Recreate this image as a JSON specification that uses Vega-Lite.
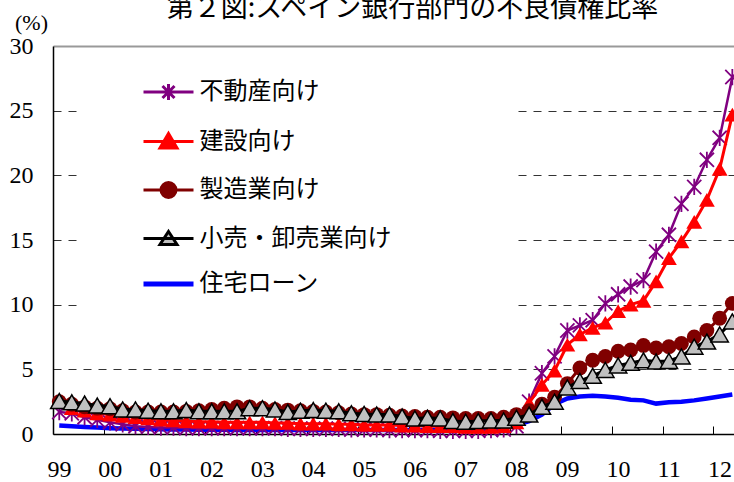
{
  "$schema": "https://vega.github.io/schema/vega-lite/v6.json",
  "width": 681,
  "height": 388,
  "autosize": {"type": "none"},
  "padding": {"left": 53, "top": 46, "right": 0, "bottom": 48},
  "background": "white",
  "config": {"view": {"stroke": null}},
  "title": {
    "text": "第２図:スペイン銀行部門の不良債権比率",
    "font": "Noto Sans CJK JP",
    "fontSize": 27,
    "fontWeight": "normal",
    "color": "#000000",
    "anchor": "middle",
    "frame": "group",
    "baseline": "alphabetic",
    "offset": 0,
    "dy": 33,
    "dx": 19
  },
  "data": {
    "values": [
      {"d": "1999-02-15", "不動産向け": 1.7, "建設向け": 2.5, "製造業向け": 2.5, "小売・卸売業向け": 2.55, "住宅ローン": 0.65},
      {"d": "1999-05-16", "不動産向け": 1.6, "建設向け": 2.0, "製造業向け": 2.3, "小売・卸売業向け": 2.45, "住宅ローン": 0.6},
      {"d": "1999-08-16", "不動産向け": 1.3, "建設向け": 1.8, "製造業向け": 2.1, "小売・卸売業向け": 2.35, "住宅ローン": 0.55},
      {"d": "1999-11-15", "不動産向け": 1.1, "建設向け": 1.6, "製造業向け": 2.0, "小売・卸売業向け": 2.2, "住宅ローン": 0.5},
      {"d": "2000-02-15", "不動産向け": 0.9, "建設向け": 1.5, "製造業向け": 1.95, "小売・卸売業向け": 2.15, "住宅ローン": 0.45},
      {"d": "2000-05-16", "不動産向け": 0.75, "建設向け": 1.4, "製造業向け": 1.8, "小売・卸売業向け": 1.9, "住宅ローン": 0.42},
      {"d": "2000-08-16", "不動産向け": 0.6, "建設向け": 1.3, "製造業向け": 1.7, "小売・卸売業向け": 1.9, "住宅ローン": 0.4},
      {"d": "2000-11-15", "不動産向け": 0.55, "建設向け": 1.2, "製造業向け": 1.7, "小売・卸売業向け": 1.8, "住宅ローン": 0.38},
      {"d": "2001-02-15", "不動産向け": 0.5, "建設向け": 1.1, "製造業向け": 1.7, "小売・卸売業向け": 1.75, "住宅ローン": 0.36},
      {"d": "2001-05-16", "不動産向け": 0.5, "建設向け": 1.05, "製造業向け": 1.7, "小売・卸売業向け": 1.75, "住宅ローン": 0.35},
      {"d": "2001-08-16", "不動産向け": 0.45, "建設向け": 1.0, "製造業向け": 1.75, "小売・卸売業向け": 1.85, "住宅ローン": 0.34},
      {"d": "2001-11-15", "不動産向け": 0.45, "建設向け": 0.95, "製造業向け": 1.8, "小売・卸売業向け": 1.75, "住宅ローン": 0.33},
      {"d": "2002-02-15", "不動産向け": 0.45, "建設向け": 0.95, "製造業向け": 1.9, "小売・卸売業向け": 1.75, "住宅ローン": 0.32},
      {"d": "2002-05-16", "不動産向け": 0.45, "建設向け": 0.9, "製造業向け": 2.0, "小売・卸売業向け": 1.75, "住宅ローン": 0.32},
      {"d": "2002-08-16", "不動産向け": 0.45, "建設向け": 0.9, "製造業向け": 2.1, "小売・卸売業向け": 1.75, "住宅ローン": 0.31},
      {"d": "2002-11-15", "不動産向け": 0.45, "建設向け": 0.9, "製造業向け": 2.1, "小売・卸売業向け": 2.0, "住宅ローン": 0.31},
      {"d": "2003-02-15", "不動産向け": 0.45, "建設向け": 0.9, "製造業向け": 2.0, "小売・卸売業向け": 2.0, "住宅ローン": 0.3},
      {"d": "2003-05-16", "不動産向け": 0.45, "建設向け": 0.85, "製造業向け": 1.9, "小売・卸売業向け": 1.9, "住宅ローン": 0.3},
      {"d": "2003-08-16", "不動産向け": 0.4, "建設向け": 0.85, "製造業向け": 1.85, "小売・卸売業向け": 1.7, "住宅ローン": 0.3},
      {"d": "2003-11-15", "不動産向け": 0.4, "建設向け": 0.8, "製造業向け": 1.8, "小売・卸売業向け": 1.8, "住宅ローン": 0.3},
      {"d": "2004-02-15", "不動産向け": 0.4, "建設向け": 0.8, "製造業向け": 1.75, "小売・卸売業向け": 1.85, "住宅ローン": 0.3},
      {"d": "2004-05-16", "不動産向け": 0.4, "建設向け": 0.8, "製造業向け": 1.7, "小売・卸売業向け": 1.8, "住宅ローン": 0.3},
      {"d": "2004-08-16", "不動産向け": 0.4, "建設向け": 0.75, "製造業向け": 1.65, "小売・卸売業向け": 1.75, "住宅ローン": 0.3},
      {"d": "2004-11-15", "不動産向け": 0.35, "建設向け": 0.75, "製造業向け": 1.55, "小売・卸売業向け": 1.6, "住宅ローン": 0.3},
      {"d": "2005-02-15", "不動産向け": 0.35, "建設向け": 0.7, "製造業向け": 1.5, "小売・卸売業向け": 1.55, "住宅ローン": 0.3},
      {"d": "2005-05-16", "不動産向け": 0.35, "建設向け": 0.7, "製造業向け": 1.5, "小売・卸売業向け": 1.5, "住宅ローン": 0.3},
      {"d": "2005-08-16", "不動産向け": 0.3, "建設向け": 0.7, "製造業向け": 1.45, "小売・卸売業向け": 1.5, "住宅ローン": 0.3},
      {"d": "2005-11-15", "不動産向け": 0.3, "建設向け": 0.65, "製造業向け": 1.4, "小売・卸売業向け": 1.35, "住宅ローン": 0.3},
      {"d": "2006-02-15", "不動産向け": 0.3, "建設向け": 0.65, "製造業向け": 1.35, "小売・卸売業向け": 1.2, "住宅ローン": 0.3},
      {"d": "2006-05-16", "不動産向け": 0.3, "建設向け": 0.6, "製造業向け": 1.3, "小売・卸売業向け": 1.25, "住宅ローン": 0.3},
      {"d": "2006-08-16", "不動産向け": 0.25, "建設向け": 0.6, "製造業向け": 1.3, "小売・卸売業向け": 1.2, "住宅ローン": 0.3},
      {"d": "2006-11-15", "不動産向け": 0.25, "建設向け": 0.6, "製造業向け": 1.25, "小売・卸売業向け": 1.0, "住宅ローン": 0.3},
      {"d": "2007-02-15", "不動産向け": 0.25, "建設向け": 0.55, "製造業向け": 1.2, "小売・卸売業向け": 0.95, "住宅ローン": 0.32},
      {"d": "2007-05-16", "不動産向け": 0.25, "建設向け": 0.55, "製造業向け": 1.2, "小売・卸売業向け": 1.0, "住宅ローン": 0.35},
      {"d": "2007-08-16", "不動産向け": 0.3, "建設向け": 0.55, "製造業向け": 1.2, "小売・卸売業向け": 1.05, "住宅ローン": 0.4},
      {"d": "2007-11-15", "不動産向け": 0.35, "建設向け": 0.6, "製造業向け": 1.3, "小売・卸売業向け": 1.05, "住宅ローン": 0.5},
      {"d": "2008-02-15", "不動産向け": 0.6, "建設向け": 0.9, "製造業向け": 1.5, "小売・卸売業向け": 1.25, "住宅ローン": 0.7},
      {"d": "2008-05-16", "不動産向け": 2.5, "建設向け": 2.4, "製造業向け": 1.8, "小売・卸売業向け": 1.5, "住宅ローン": 1.0},
      {"d": "2008-08-16", "不動産向け": 4.7, "建設向け": 3.8, "製造業向け": 2.3, "小売・卸売業向け": 2.1, "住宅ローン": 1.5},
      {"d": "2008-11-15", "不動産向け": 6.0, "建設向け": 4.9, "製造業向け": 2.85, "小売・卸売業向け": 2.5, "住宅ローン": 2.3},
      {"d": "2009-02-15", "不動産向け": 8.0, "建設向け": 6.9, "製造業向け": 3.9, "小売・卸売業向け": 3.6, "住宅ローン": 2.75},
      {"d": "2009-05-16", "不動産向け": 8.4, "建設向け": 7.7, "製造業向け": 5.1, "小売・卸売業向け": 4.1, "住宅ローン": 2.9},
      {"d": "2009-08-16", "不動産向け": 8.8, "建設向け": 8.2, "製造業向け": 5.7, "小売・卸売業向け": 4.5, "住宅ローン": 2.95},
      {"d": "2009-11-15", "不動産向け": 10.1, "建設向け": 8.6, "製造業向け": 6.0, "小売・卸売業向け": 4.95, "住宅ローン": 2.9},
      {"d": "2010-02-15", "不動産向け": 10.8, "建設向け": 9.5, "製造業向け": 6.4, "小売・卸売業向け": 5.3, "住宅ローン": 2.8},
      {"d": "2010-05-16", "不動産向け": 11.4, "建設向け": 10.0, "製造業向け": 6.5, "小売・卸売業向け": 5.5, "住宅ローン": 2.65},
      {"d": "2010-08-16", "不動産向け": 11.9, "建設向け": 10.3, "製造業向け": 6.85, "小売・卸売業向け": 5.7, "住宅ローン": 2.6},
      {"d": "2010-11-15", "不動産向け": 14.1, "建設向け": 11.8, "製造業向け": 6.65, "小売・卸売業向け": 5.6, "住宅ローン": 2.35},
      {"d": "2011-02-15", "不動産向け": 15.4, "建設向け": 13.6, "製造業向け": 6.75, "小売・卸売業向け": 5.65, "住宅ローン": 2.45},
      {"d": "2011-05-16", "不動産向け": 17.8, "建設向け": 14.9, "製造業向け": 7.0, "小売・卸売業向け": 6.0, "住宅ローン": 2.5},
      {"d": "2011-08-16", "不動産向け": 19.1, "建設向け": 16.4, "製造業向け": 7.5, "小売・卸売業向け": 6.75, "住宅ローン": 2.6},
      {"d": "2011-11-15", "不動産向け": 21.2, "建設向け": 18.1, "製造業向け": 8.0, "小売・卸売業向け": 7.15, "住宅ローン": 2.75},
      {"d": "2012-02-15", "不動産向け": 22.9, "建設向け": 20.5, "製造業向け": 8.95, "小売・卸売業向け": 7.7, "住宅ローン": 2.9},
      {"d": "2012-05-16", "不動産向け": 27.6, "建設向け": 24.7, "製造業向け": 10.1, "小売・卸売業向け": 8.7, "住宅ローン": 3.05}
    ]
  },
  "transform": [
    {"fold": ["不動産向け", "建設向け", "製造業向け", "小売・卸売業向け", "住宅ローン"], "as": ["s", "v"]}
  ],
  "encoding": {
    "x": {
      "field": "d",
      "type": "temporal",
      "scale": {"domain": [{"year": 1999, "month": 1, "date": 1}, {"year": 2012, "month": 5, "date": 28}]},
      "axis": {
        "title": null,
        "values": [
          {"year": 1999, "month": 1, "date": 1}, {"year": 2000, "month": 1, "date": 1},
          {"year": 2001, "month": 1, "date": 1}, {"year": 2002, "month": 1, "date": 1},
          {"year": 2003, "month": 1, "date": 1}, {"year": 2004, "month": 1, "date": 1},
          {"year": 2005, "month": 1, "date": 1}, {"year": 2006, "month": 1, "date": 1},
          {"year": 2007, "month": 1, "date": 1}, {"year": 2008, "month": 1, "date": 1},
          {"year": 2009, "month": 1, "date": 1}, {"year": 2010, "month": 1, "date": 1},
          {"year": 2011, "month": 1, "date": 1}, {"year": 2012, "month": 1, "date": 1}
        ],
        "format": "%y",
        "labelFont": "Liberation Serif",
        "labelFontSize": 24,
        "labelColor": "#000000",
        "labelOffset": 6,
        "labelFlush": false,
        "labelOverlap": false,
        "labelBaseline": "alphabetic",
        "labelPadding": 50,
        "tickSize": -8,
        "tickColor": "#000000",
        "tickWidth": 1,
        "domainColor": "#000000",
        "domainWidth": 1.5,
        "grid": false
      }
    },
    "y": {
      "field": "v",
      "type": "quantitative",
      "scale": {"domain": [0, 30]},
      "axis": {
        "title": "(%)",
        "titleAngle": 0,
        "titleX": -22,
        "titleY": -17,
        "titleAlign": "center",
        "titleBaseline": "alphabetic",
        "titleFont": "Liberation Serif",
        "titleFontSize": 22,
        "titleFontWeight": "normal",
        "titleColor": "#000000",
        "values": [0, 5, 10, 15, 20, 25, 30],
        "labelFont": "Liberation Serif",
        "labelFontSize": 24,
        "labelColor": "#000000",
        "labelPadding": 20,
        "labelFlush": false,
        "ticks": false,
        "domainColor": "#000000",
        "domainWidth": 1.5,
        "grid": true,
        "gridColor": {"condition": {"test": "datum.value === 30", "value": "#999999"}, "value": "#333333"},
        "gridDash": {"condition": {"test": "datum.value === 30", "value": []}, "value": [8, 7]},
        "gridWidth": {"condition": {"test": "datum.value === 30", "value": 2}, "value": 1},
        "gridOpacity": {"condition": {"test": "datum.value === 0", "value": 0}, "value": 1}
      }
    },
    "color": {
      "field": "s",
      "type": "nominal",
      "scale": {
        "domain": ["不動産向け", "建設向け", "製造業向け", "小売・卸売業向け", "住宅ローン"],
        "range": ["#800080", "#ff0000", "#800000", "#000000", "#0000ff"]
      },
      "legend": {
        "orient": "none",
        "legendX": 25,
        "legendY": 24,
        "title": " ",
        "titleOrient": "right",
        "titlePadding": 112,
        "titleFontSize": 10,
        "padding": 10,
        "fillColor": "#ffffff",
        "labelFont": "Noto Sans CJK JP",
        "labelFontSize": 24,
        "labelColor": "#000000",
        "labelLimit": 400,
        "symbolSize": 400,
        "symbolStrokeWidth": 2.5,
        "symbolOffset": 68.5,
        "labelOffset": 19,
        "rowPadding": 21.5,
        "encode": {
          "symbols": {
            "update": {
              "shape": {"signal": "datum.value === '不動産向け' ? 'M-2.5,0L2.5,0M-0.6,-0.6L0.6,0.6M-0.6,0.6L0.6,-0.6M0,-0.8L0,0.8' : datum.value === '建設向け' ? 'M-2.5,0L2.5,0M0,-0.8L0.85,0.65L-0.85,0.65Z' : datum.value === '製造業向け' ? 'M-2.5,0L2.5,0M0.75,0A0.75,0.75,0,1,1,-0.75,0A0.75,0.75,0,1,1,0.75,0Z' : datum.value === '小売・卸売業向け' ? 'M-2.5,0L2.5,0M0,-0.7L0.85,0.6L-0.85,0.6Z' : 'M-2.5,0L2.5,0'"},
              "fill": {"signal": "datum.value === '建設向け' ? '#ff0000' : datum.value === '製造業向け' ? '#800000' : datum.value === '小売・卸売業向け' ? '#c0c0c0' : 'transparent'"},
              "stroke": {"signal": "datum.value === '不動産向け' ? '#800080' : datum.value === '建設向け' ? '#ff0000' : datum.value === '製造業向け' ? '#800000' : datum.value === '小売・卸売業向け' ? '#000000' : '#0000ff'"},
              "strokeWidth": {"signal": "datum.value === '住宅ローン' ? 5 : 3"},
              "opacity": {"value": 1}
            }
          }
        }
      }
    }
  },
  "layer": [
    {
      "transform": [{"filter": "datum.s === '住宅ローン'"}],
      "mark": {"type": "line", "strokeWidth": 4.5}
    },
    {
      "transform": [{"filter": "datum.s === '不動産向け'"}],
      "mark": {"type": "line", "strokeWidth": 2.5}
    },
    {
      "transform": [{"filter": "datum.s === '不動産向け'"}],
      "mark": {"type": "point", "shape": "M-1,-1L1,1M-1,1L1,-1M0,-1.15L0,1.15", "filled": false, "size": 200, "strokeWidth": 1.8, "opacity": 1},
      "encoding": {"color": {"value": "#800080"}}
    },
    {
      "transform": [{"filter": "datum.s === '建設向け'"}],
      "mark": {"type": "line", "strokeWidth": 3}
    },
    {
      "transform": [{"filter": "datum.s === '建設向け'"}],
      "mark": {"type": "point", "shape": "triangle-up", "filled": true, "size": 250, "opacity": 1},
      "encoding": {"color": {"value": "#ff0000"}}
    },
    {
      "transform": [{"filter": "datum.s === '製造業向け'"}],
      "mark": {"type": "line", "strokeWidth": 3}
    },
    {
      "transform": [{"filter": "datum.s === '製造業向け'"}],
      "mark": {"type": "point", "shape": "circle", "filled": true, "size": 220, "opacity": 1},
      "encoding": {"color": {"value": "#800000"}}
    },
    {
      "transform": [{"filter": "datum.s === '小売・卸売業向け'"}],
      "mark": {"type": "line", "strokeWidth": 3}
    },
    {
      "transform": [{"filter": "datum.s === '小売・卸売業向け'"}],
      "mark": {"type": "point", "shape": "triangle-up", "filled": true, "size": 300, "stroke": "#000000", "strokeWidth": 1.5, "opacity": 1},
      "encoding": {"color": {"value": "#c0c0c0"}}
    }
  ]
}
